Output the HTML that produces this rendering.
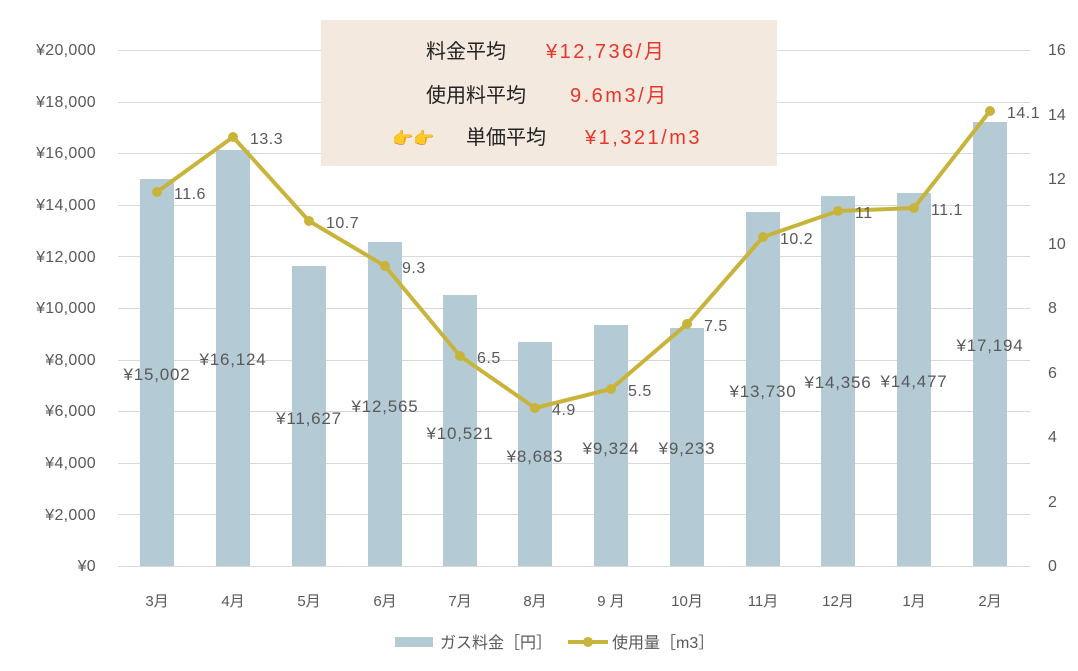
<!DOCTYPE html>
<html><head><meta charset="utf-8"><style>
body{margin:0;background:#fff}
svg text{font-family:"Liberation Sans","Noto Sans CJK JP",sans-serif;fill:#595959}
</style></head><body>
<svg width="1078" height="666" viewBox="0 0 1078 666" xmlns="http://www.w3.org/2000/svg">
<g stroke="#d9d9d9" stroke-width="1">
<line x1="118" x2="1030" y1="50.5" y2="50.5"/><line x1="118" x2="1030" y1="102.5" y2="102.5"/>
<line x1="118" x2="1030" y1="153.5" y2="153.5"/><line x1="118" x2="1030" y1="205.5" y2="205.5"/>
<line x1="118" x2="1030" y1="256.5" y2="256.5"/><line x1="118" x2="1030" y1="308.5" y2="308.5"/>
<line x1="118" x2="1030" y1="360.5" y2="360.5"/><line x1="118" x2="1030" y1="411.5" y2="411.5"/>
<line x1="118" x2="1030" y1="463.5" y2="463.5"/><line x1="118" x2="1030" y1="514.5" y2="514.5"/>
<line x1="118" x2="1030" y1="566.5" y2="566.5"/>
</g>
<g font-size="16" text-anchor="end" letter-spacing="0.3">
<text x="96" y="571">¥0</text><text x="96" y="520">¥2,000</text><text x="96" y="468">¥4,000</text>
<text x="96" y="416">¥6,000</text><text x="96" y="365">¥8,000</text><text x="96" y="313">¥10,000</text>
<text x="96" y="262">¥12,000</text><text x="96" y="210">¥14,000</text><text x="96" y="158">¥16,000</text>
<text x="96" y="107">¥18,000</text><text x="96" y="55">¥20,000</text>
</g>
<g font-size="16" text-anchor="start">
<text x="1048" y="571">0</text><text x="1048" y="507">2</text><text x="1048" y="442">4</text>
<text x="1048" y="378">6</text><text x="1048" y="313">8</text><text x="1048" y="249">10</text>
<text x="1048" y="184">12</text><text x="1048" y="120">14</text><text x="1048" y="55">16</text>
</g>
<g fill="#b4cbd5">
<rect x="140" y="179" width="34" height="387"/>
<rect x="216" y="150" width="34" height="416"/>
<rect x="292" y="266" width="34" height="300"/>
<rect x="368" y="242" width="34" height="324"/>
<rect x="443" y="295" width="34" height="271"/>
<rect x="518" y="342" width="34" height="224"/>
<rect x="594" y="325" width="34" height="241"/>
<rect x="670" y="328" width="34" height="238"/>
<rect x="746" y="212" width="34" height="354"/>
<rect x="821" y="196" width="34" height="370"/>
<rect x="897" y="193" width="34" height="373"/>
<rect x="973" y="122" width="34" height="444"/>
</g>
<g font-size="15" text-anchor="middle">
<text x="157" y="606">3月</text><text x="233" y="606">4月</text><text x="309" y="606">5月</text>
<text x="385" y="606">6月</text><text x="460" y="606">7月</text><text x="535" y="606">8月</text>
<text x="611" y="606">9 月</text><text x="687" y="606">10月</text><text x="763" y="606">11月</text>
<text x="838" y="606">12月</text><text x="914" y="606">1月</text><text x="990" y="606">2月</text>
</g>
<g font-size="17" text-anchor="middle" letter-spacing="0.8">
<text x="157" y="380">¥15,002</text><text x="233" y="365">¥16,124</text><text x="309" y="424">¥11,627</text>
<text x="385" y="412">¥12,565</text><text x="460" y="439">¥10,521</text><text x="535" y="462">¥8,683</text>
<text x="611" y="454">¥9,324</text><text x="687" y="454">¥9,233</text><text x="763" y="397">¥13,730</text>
<text x="838" y="388">¥14,356</text><text x="914" y="387">¥14,477</text><text x="990" y="351">¥17,194</text>
</g>
<polyline fill="none" stroke="#c8b43a" stroke-width="4" stroke-linejoin="round"
points="157,192 233,137 309,221 385,266 460,356 535,408 611,389 687,324 763,237 838,211 914,208 990,111"/>
<g fill="#c8b43a">
<circle cx="157" cy="192" r="5"/><circle cx="233" cy="137" r="5"/><circle cx="309" cy="221" r="5"/>
<circle cx="385" cy="266" r="5"/><circle cx="460" cy="356" r="5"/><circle cx="535" cy="408" r="5"/>
<circle cx="611" cy="389" r="5"/><circle cx="687" cy="324" r="5"/><circle cx="763" cy="237" r="5"/>
<circle cx="838" cy="211" r="5"/><circle cx="914" cy="208" r="5"/><circle cx="990" cy="111" r="5"/>
</g>
<g font-size="16" letter-spacing="0.5">
<text x="174" y="199">11.6</text><text x="250" y="144">13.3</text><text x="326" y="228">10.7</text>
<text x="402" y="273">9.3</text><text x="477" y="363">6.5</text><text x="552" y="415">4.9</text>
<text x="628" y="396">5.5</text><text x="704" y="331">7.5</text><text x="780" y="244">10.2</text>
<text x="855" y="218">11</text><text x="931" y="215">11.1</text><text x="1007" y="118">14.1</text>
</g>
<rect x="321" y="20" width="456" height="146" fill="#f3e9df"/>
<g font-size="20">
<text x="426" y="58" style="fill:#222">料金平均</text>
<text x="546" y="58" style="fill:#e8352b" letter-spacing="2.5">¥12,736/月</text>
<text x="426" y="102" style="fill:#222">使用料平均</text>
<text x="570" y="102" style="fill:#e8352b" letter-spacing="2.5">9.6m3/月</text>
<text x="392" y="144" font-size="17">👉👉</text>
<text x="466" y="144" style="fill:#222">単価平均</text>
<text x="585" y="144" style="fill:#e8352b" letter-spacing="2.5">¥1,321/m3</text>
</g>
<rect x="395" y="637" width="38" height="10" fill="#b4cbd5"/>
<text x="440" y="648" font-size="16">ガス料金［円］</text>
<line x1="568" x2="608" y1="642" y2="642" stroke="#c8b43a" stroke-width="4"/>
<circle cx="588" cy="642" r="5" fill="#c8b43a"/>
<text x="612" y="648" font-size="16">使用量［m3］</text>
</svg>
</body></html>
